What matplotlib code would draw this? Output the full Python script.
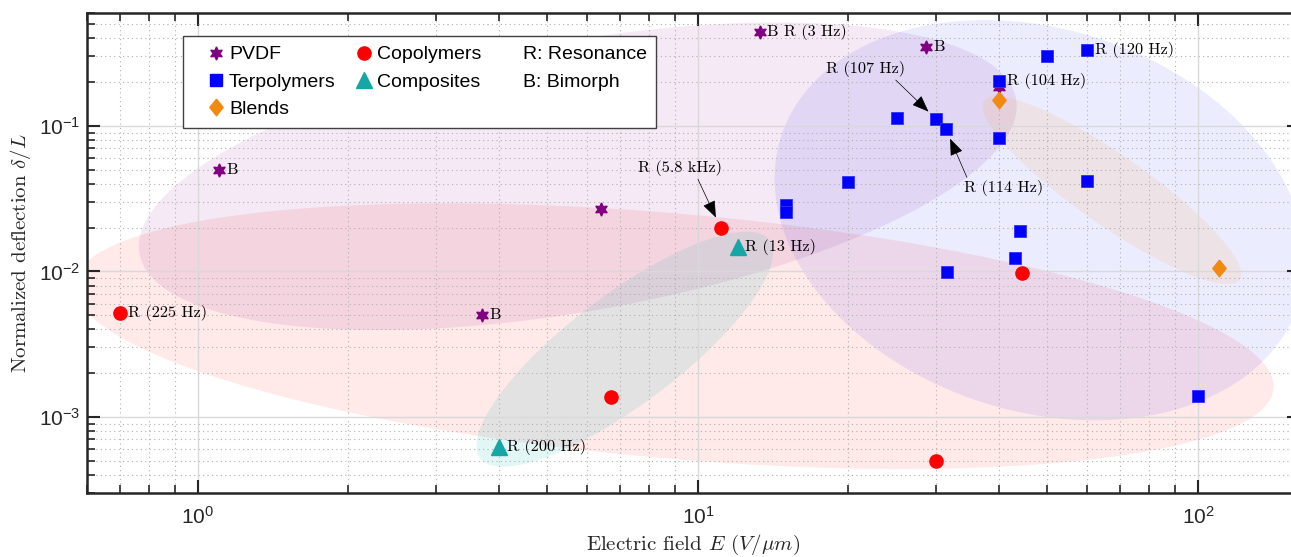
import numpy as np
import matplotlib
matplotlib.use("Agg")
import matplotlib.pyplot as plt
from matplotlib.lines import Line2D
from matplotlib.ticker import LogLocator, FuncFormatter, NullFormatter

plt.rcParams["mathtext.fontset"] = "cm"

# ---- data (E in V/um, normalized deflection) ----
pvdf_E = [1.1, 6.4, 3.7, 13.3, 28.6, 40]
pvdf_d = [0.05, 0.027, 0.005, 0.44, 0.35, 0.185]
pvdf_notes = ["B", "", "B", "B R (3 Hz)", "B", ""]

copo_E = [0.7, 11.1, 6.7, 30, 44.5]
copo_d = [5.15e-3, 0.02, 1.37e-3, 5.0e-4, 9.7e-3]
copo_notes = ["R (225 Hz)", "", "", "", ""]

comp_E = [12, 4]
comp_d = [0.0147, 6.2e-4]
comp_notes = ["R (13 Hz)", "R (200 Hz)"]

terp_E = [50, 60, 40, 25, 30, 31.3, 40, 60, 44, 43, 31.5, 20, 15, 15, 100]
terp_d = [0.30, 0.33, 0.205, 0.114, 0.111, 0.096, 0.082, 0.042, 0.019,
          0.0124, 0.0099, 0.041, 0.0285, 0.0255, 1.4e-3]
terp_notes = ["", "R (120 Hz)", "R (104 Hz)", "", "", "", "", "", "", "",
              "", "", "", "", ""]

blend_E = [40, 110]
blend_d = [0.15, 0.0105]

# arrowed notes: (series, index, text, text E, text d, relpos)
arrow_notes = [
    ("copo", 1, "R (5.8 kHz)", 9.2, 0.051, (0.7, 0.0)),
    ("terp", 4, "R (107 Hz)", 21.6, 0.245, (0.85, 0.0)),
    ("terp", 5, "R (114 Hz)", 40.9, 0.0373, (0.05, 1.0)),
]

# group regions: center E, center d, semi axes (decades), angle (deg), color, alpha
regions = [
    (8.95, 3.59e-3, 1.204, 0.245, -5, "#ff0000", 0.085),   # copolymers
    (5.75, 0.0451, 0.89, 0.27, 10, "#800080", 0.085),      # PVDF
    (48.3, 0.0225, 0.544, 0.382, -18, "#0000ff", 0.075),   # terpolymers
    (7.14, 2.92e-3, 0.362, 0.11, 37, "#00b0b0", 0.11),     # composites
    (67.3, 0.0361, 0.312, 0.07, -35, "#ff8c00", 0.10),     # blends
]

c_pvdf = "#800080"
c_copo = "#ff0000"
c_terp = "#0000ff"
c_comp = "#17a6a6"
c_blend = "#f28a12"

xlim = (0.6, 160)
ylim = (3e-4, 0.6)

fig = plt.figure(figsize=(12.91, 5.57), dpi=100)
ax = fig.add_axes([87 / 1291, 64 / 557, 1213 / 1291, 480.3 / 557])
ax.set_xscale("log")
ax.set_yscale("log")
ax.set_xlim(*xlim)
ax.set_ylim(*ylim)

# pixels per decade ratio so the ellipses are true ellipses on screen
bb = ax.get_position()
w_px = bb.width * fig.get_figwidth()
h_px = bb.height * fig.get_figheight()
k = (h_px / np.log10(ylim[1] / ylim[0])) / (w_px / np.log10(xlim[1] / xlim[0]))

t = np.linspace(0, 2 * np.pi, 300)
for cx, cy, a, b, ang, col, alp in regions:
    th = np.deg2rad(ang)
    u = a * np.cos(t)
    v = b * np.sin(t)
    U = u * np.cos(th) - v * np.sin(th)
    V = u * np.sin(th) + v * np.cos(th)
    ax.fill(10 ** (np.log10(cx) + U), 10 ** (np.log10(cy) + V / k),
            color=col, alpha=alp, lw=0, zorder=0.2)

hexagram = (6, 1, 0)
diamond = [(0, 1), (0.8, 0), (0, -1), (-0.8, 0), (0, 1)]

ax.plot(pvdf_E, pvdf_d, ls="none", marker=hexagram, ms=9.5, color=c_pvdf,
        mec=c_pvdf, zorder=3)
ax.plot(copo_E, copo_d, ls="none", marker="o", ms=9.5, color=c_copo,
        mec=c_copo, zorder=3)
ax.plot(comp_E, comp_d, ls="none", marker="^", ms=11, color=c_comp,
        mec=c_comp, zorder=3)
ax.plot(terp_E, terp_d, ls="none", marker="s", ms=8, color=c_terp,
        mec="#3030ff", mew=0.6, zorder=3)
ax.plot(blend_E, blend_d, ls="none", marker=diamond, ms=12, color=c_blend,
        mec=c_blend, zorder=3)

serif = dict(family="cmr10", fontsize=11.7)

series = {
    "pvdf": (pvdf_E, pvdf_d, pvdf_notes),
    "copo": (copo_E, copo_d, copo_notes),
    "comp": (comp_E, comp_d, comp_notes),
    "terp": (terp_E, terp_d, terp_notes),
}
for name, (xs, ys, notes) in series.items():
    for xv, yv, note in zip(xs, ys, notes):
        if note:
            ax.annotate(note, xy=(xv, yv), xytext=(5.5, 0),
                        textcoords="offset points", ha="left", va="center",
                        zorder=4, **serif)

for name, idx, txt, tx, ty, rp in arrow_notes:
    xs, ys, _ = series[name]
    ax.annotate(txt, xy=(xs[idx], ys[idx]), xytext=(tx, ty),
                ha="center", va="center", zorder=4,
                arrowprops=dict(arrowstyle="-|>,head_length=0.9,head_width=0.35",
                                color="k", lw=0.5, shrinkA=0, shrinkB=8,
                                relpos=rp),
                **serif)

# axes styling
for sp in ax.spines.values():
    sp.set_linewidth(1.8)
    sp.set_color("#262626")
ax.xaxis.set_major_locator(LogLocator(base=10, numticks=10))
ax.yaxis.set_major_locator(LogLocator(base=10, numticks=10))
ax.xaxis.set_minor_locator(LogLocator(base=10, subs=np.arange(2, 10), numticks=20))
ax.yaxis.set_minor_locator(LogLocator(base=10, subs=np.arange(2, 10), numticks=20))
fmt = FuncFormatter(lambda v, p: r"$\mathregular{10^{%d}}$" % round(np.log10(v)))
ax.xaxis.set_major_formatter(fmt)
ax.yaxis.set_major_formatter(fmt)
ax.xaxis.set_minor_formatter(NullFormatter())
ax.yaxis.set_minor_formatter(NullFormatter())
ax.tick_params(which="both", direction="in", top=True, right=True,
               color="#262626")
ax.tick_params(which="major", length=9.5, width=1.5, labelsize=15)
ax.tick_params(axis="x", which="major", pad=9)
ax.tick_params(axis="y", which="major", pad=5)
ax.tick_params(which="minor", length=5.8, width=1.2)
for lab in ax.get_xticklabels() + ax.get_yticklabels():
    lab.set_family("Liberation Sans")
    lab.set_color("#262626")

ax.grid(which="major", color="#d9d9d9", lw=1.0, ls="-", zorder=0.5)
ax.grid(which="minor", color="#b0b0b0", lw=0.8, ls=(0, (1, 3)), zorder=0.5)
ax.set_axisbelow(True)

ax.set_xlabel(r"Electric field $E$ $(V/\mu m)$", family="cmr10", fontsize=15,
              labelpad=4, color="#262626")
ax.set_ylabel(r"Normalized deflection $\delta/L$", family="cmr10", fontsize=15,
              labelpad=4, color="#262626")

# legend
blank = Line2D([], [], ls="none")
handles = [
    Line2D([], [], ls="none", marker=hexagram, ms=9.5, color=c_pvdf),
    Line2D([], [], ls="none", marker="s", ms=8, color=c_terp),
    Line2D([], [], ls="none", marker=diamond, ms=12, color=c_blend),
    Line2D([], [], ls="none", marker="o", ms=9.5, color=c_copo),
    Line2D([], [], ls="none", marker="^", ms=11, color=c_comp),
    blank, blank, blank, blank,
]
labels = ["PVDF", "Terpolymers", "Blends", "Copolymers", "Composites", "",
          "R: Resonance", "B: Bimorph", ""]
leg = ax.legend(handles, labels, ncol=3, loc="upper left",
                bbox_to_anchor=((183 - 87) / 1213, (493 - 36) / 480.3),
                borderaxespad=0, prop={"family": "Liberation Sans", "size": 14},
                handlelength=2.4, handletextpad=-0.53, columnspacing=0.25,
                borderpad=0.5, labelspacing=0.5, fancybox=False,
                framealpha=1, edgecolor="#404040")
leg.get_frame().set_linewidth(1.0)
leg.set_zorder(5)

fig.savefig("out.png", dpi=100)
